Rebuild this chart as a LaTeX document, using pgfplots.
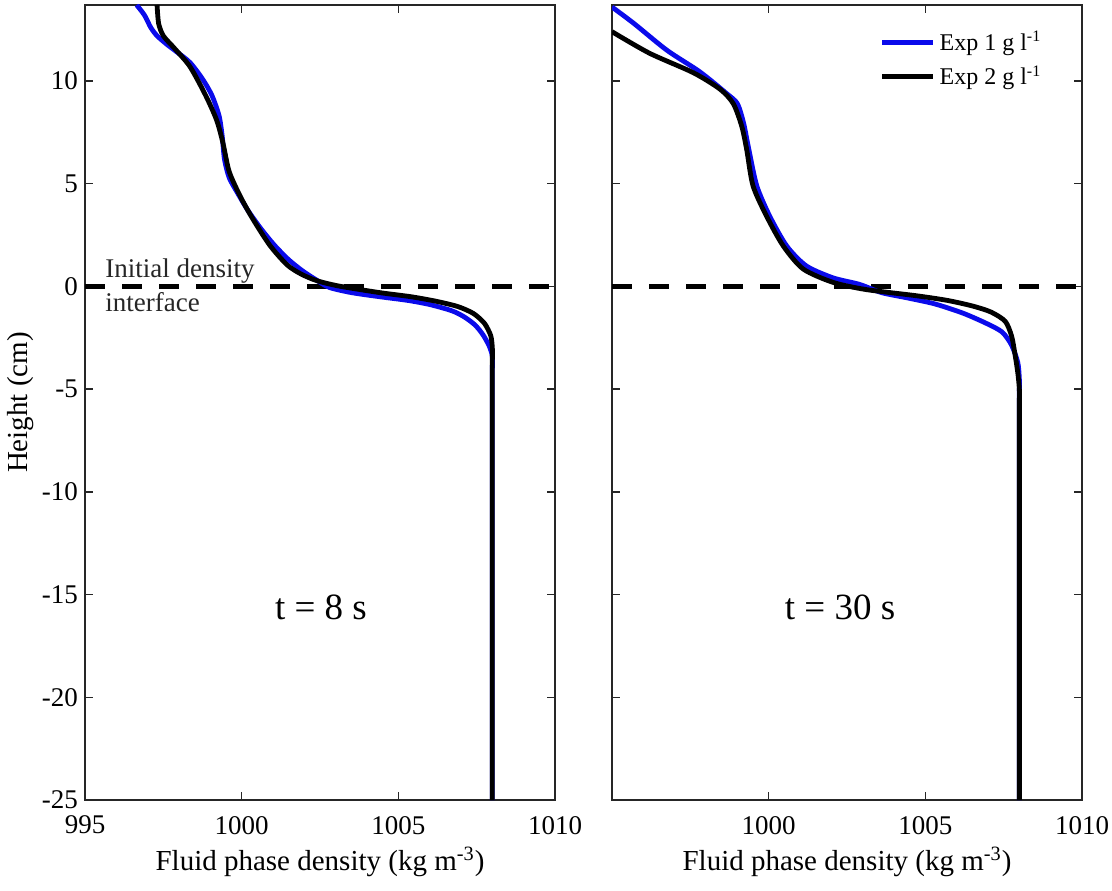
\documentclass[border=0pt]{standalone}
\usepackage{pgfplots}
\pgfplotsset{compat=1.18}
\usepackage{fontspec}
\setmainfont{Liberation Serif}
\definecolor{expblue}{RGB}{10,10,235}
\definecolor{axcol}{RGB}{38,38,38}

\pgfplotsset{
  myaxis/.style={
    scale only axis,
    width=235pt, height=397.5pt,
    xmin=995, xmax=1010, ymin=-25, ymax=13.7,
    axis line style={axcol, line width=0.75pt},
    every tick/.style={axcol, line width=0.75pt},
    major tick length=4pt,
    tick align=inside,
    xtick pos=both, ytick pos=both,
    ytick={-25,-20,-15,-10,-5,0,5,10},
    /pgf/number format/assume math mode=true,
    /pgf/number format/1000 sep={},
    tick label style={font=\fontsize{13.5}{14}\selectfont},
    xticklabel style={yshift=-4.5pt},
    label style={font=\fontsize{14.5}{16}\selectfont},
    xlabel={Fluid phase density (kg m\textsuperscript{-3})},
    xlabel style={at={(axis description cs:0.5,-0.078)}, anchor=center},
    clip=true,
  },
  curve/.style={line width=2.4pt, smooth, tension=0.45},
}

\pgfplotstableread{
d h
996.65 13.7
996.9 13.2
997.1 12.6
997.3 12.2
997.6 11.8
997.9 11.45
998.35 10.9
998.75 10.1
999.05 9.3
999.28 8.3
999.38 7.3
999.45 6.2
999.6 5.3
999.85 4.6
1000.2 3.7
1000.62 2.8
1001.05 2.0
1001.5 1.3
1001.95 0.75
1002.4 0.3
1002.8 -0.05
1003.5 -0.3
1004.4 -0.5
1005.3 -0.68
1006.0 -0.88
1006.7 -1.18
1007.1 -1.48
1007.45 -1.88
1007.7 -2.35
1007.9 -2.9
1008.0 -3.4
1008.0 -4.0
1008.0 -5.0
1008.0 -7.0
1008.0 -11.0
1008.0 -18.0
1008.0 -25
}\leftblue

\pgfplotstableread{
d h
997.3 13.7
997.35 12.8
997.5 12.2
997.85 11.6
998.35 10.7
998.85 9.3
999.2 8.1
999.4 7.0
999.6 5.6
999.95 4.4
1000.35 3.3
1000.9 2.0
1001.45 1.05
1001.9 0.6
1002.4 0.28
1003.1 0.02
1004.4 -0.3
1005.4 -0.5
1006.2 -0.72
1006.9 -0.98
1007.4 -1.32
1007.75 -1.8
1007.95 -2.4
1008.0 -3.0
1008.0 -3.6
1008.0 -4.5
1008.0 -6.5
1008.0 -10.0
1008.0 -17.0
1008.0 -25
}\leftblack

\pgfplotstableread{
d h
995.0 13.6
995.7 12.8
996.75 11.5
997.8 10.45
998.65 9.4
999.0 8.9
999.2 7.95
999.35 6.8
999.62 4.9
1000.04 3.4
1000.58 1.96
1001.2 1.0
1002.05 0.42
1002.9 0.1
1003.6 -0.3
1004.4 -0.55
1005.3 -0.85
1006.2 -1.3
1006.95 -1.8
1007.45 -2.22
1007.75 -2.85
1007.95 -3.7
1008.0 -4.5
1008.0 -5.2
1008.0 -6.5
1008.0 -9.0
1008.0 -14.0
1008.0 -25
}\rightblue

\pgfplotstableread{
d h
995.0 12.4
996.2 11.35
997.6 10.4
998.45 9.6
998.87 8.9
999.14 7.8
999.3 6.65
999.5 4.9
999.94 3.4
1000.47 1.96
1001.1 0.85
1002.05 0.2
1003.1 -0.15
1004.7 -0.45
1005.7 -0.68
1006.5 -0.95
1007.1 -1.25
1007.55 -1.7
1007.75 -2.4
1007.85 -3.2
1007.95 -4.2
1008.0 -5
1008.0 -5.7
1008.0 -7.0
1008.0 -9.5
1008.0 -14.5
1008.0 -25
}\rightblack

\pgfplotstableread{
d h
995 0
1010 0
}\iface

\begin{document}
\begin{tikzpicture}
\useasboundingbox (-42.5pt,-45pt) rectangle (513.5pt,400pt);
\begin{axis}[myaxis,
  xtick={995,1000,1005,1010},
  ylabel={Height (cm)},
  ylabel style={at={(axis description cs:-0.138,0.5)}, anchor=center},
]
\addplot[forget plot, black, line width=2.4pt, dash pattern=on 10pt off 8.5pt] table[x=d,y=h] {\iface};
\addplot[expblue, curve] table[x=d,y=h] {\leftblue};
\addplot[black, curve] table[x=d,y=h] {\leftblack};
\node[anchor=base west, inner sep=0pt, font=\fontsize{13.5}{14}\selectfont, black!85] at (axis cs:995.64,0.44) {Initial density};
\node[anchor=base west, inner sep=0pt, font=\fontsize{13.5}{14}\selectfont, black!85] at (axis cs:995.64,-1.21) {interface};
\node[font=\fontsize{18.5}{20}\selectfont] at (axis cs:1002.53,-15.6) {t = 8 s};
\end{axis}
\begin{axis}[myaxis, at={(263.5pt,0pt)},
  xtick={1000,1005,1010},
  yticklabels={},
  legend style={at={(0.927,0.975)}, anchor=north east, draw=none, fill=none,
    font=\fontsize{12}{13}\selectfont, row sep=2pt, inner sep=1pt,
    legend cell align=left},
  legend image code/.code={\draw[#1] (0cm,0cm) -- (0.9cm,0cm);},
]
\addplot[forget plot, black, line width=2.4pt, dash pattern=on 10pt off 8.5pt] table[x=d,y=h] {\iface};
\addplot[expblue, curve] table[x=d,y=h] {\rightblue};
\addlegendentry{Exp 1 g l\textsuperscript{-1}}
\addplot[black, curve] table[x=d,y=h] {\rightblack};
\addlegendentry{Exp 2 g l\textsuperscript{-1}}
\node[font=\fontsize{18.5}{20}\selectfont] at (axis cs:1002.28,-15.6) {t = 30 s};
\end{axis}
\end{tikzpicture}
\end{document}
